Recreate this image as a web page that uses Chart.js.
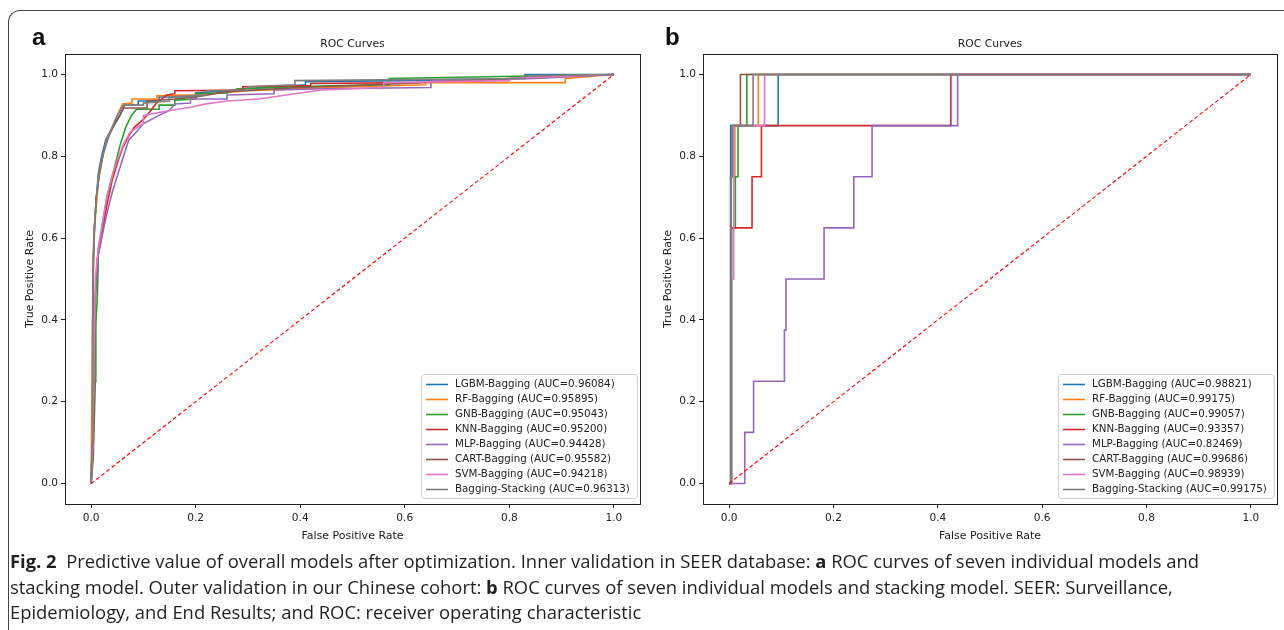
<!DOCTYPE html>
<html>
<head>
<meta charset="utf-8">
<script src="https://cdn.jsdelivr.net/npm/chart.js@4.4.0/dist/chart.umd.min.js"></script>
<style>
body { margin:0; width:1284px; height:630px; overflow:hidden; background:#fff; position:relative; }
.frame { position:absolute; left:8px; top:10px; width:1320px; height:700px; border-left:1.5px solid #444; border-top:1.5px solid #444; border-top-left-radius:12px; }
canvas { position:absolute; top:0; }
#chartA { left:0; }
#chartB { left:640px; }
.tag { position:absolute; top:25px; font-family:"Liberation Sans", Arial, sans-serif; font-weight:bold; font-size:24px; line-height:24px; color:#111; }
.caption { position:absolute; left:10px; top:548px; font-family:"Open Sans", sans-serif; font-size:18.4px; line-height:25.5px; color:#231f20; white-space:nowrap; }
</style>
</head>
<body>
<div class="frame"></div>
<canvas id="chartA" width="660" height="549"></canvas>
<canvas id="chartB" width="644" height="549"></canvas>
<div class="tag" style="left:32px">a</div>
<div class="tag" style="left:665px">b</div>
<div class="caption">
<div><b>Fig. 2</b>&nbsp; Predictive value of overall models after optimization. Inner validation in SEER database: <b>a</b> ROC curves of seven individual models and</div>
<div>stacking model. Outer validation in our Chinese cohort: <b>b</b> ROC curves of seven individual models and stacking model. SEER: Surveillance,</div>
<div>Epidemiology, and End Results; and ROC: receiver operating characteristic</div>
</div>
<script>
const plotTitle = "ROC Curves";
const models = ["LGBM-Bagging", "RF-Bagging", "GNB-Bagging", "KNN-Bagging", "MLP-Bagging", "CART-Bagging", "SVM-Bagging", "Bagging-Stacking"];
const colors = ["#1f77b4", "#ff7f0e", "#2ca02c", "#d62728", "#9467bd", "#8c564b", "#e377c2", "#7f7f7f"];
const aucA = [0.96084, 0.95895, 0.95043, 0.95200, 0.94428, 0.95582, 0.94218, 0.96313];
const aucB = [0.98821, 0.99175, 0.99057, 0.93357, 0.82469, 0.99686, 0.98939, 0.99175];
const tickVals = [0, 0.2, 0.4, 0.6, 0.8, 1.0];
const chanceLine = [[0, 0], [1, 1]];

// panel a: inner validation (SEER), [fpr, tpr]
const lgbmA = [[0,0],[0.002,0.12],[0.003,0.35],[0.004,0.55],[0.006,0.62],[0.01,0.7],[0.014,0.76],[0.02,0.8],[0.028,0.84],[0.036,0.86],[0.046,0.88],[0.055,0.9],[0.064,0.925],[0.09,0.925],[0.09,0.935],[0.13,0.935],[0.13,0.945],[0.2,0.945],[0.2,0.955],[0.26,0.96],[0.3,0.965],[0.41,0.975],[0.41,0.982],[0.6,0.985],[0.83,0.99],[0.83,1],[1,1]];
const rfA = [[0,0],[0.002,0.3],[0.004,0.55],[0.008,0.65],[0.014,0.74],[0.022,0.8],[0.03,0.84],[0.04,0.87],[0.05,0.9],[0.06,0.928],[0.078,0.93],[0.078,0.94],[0.126,0.94],[0.126,0.948],[0.2,0.95],[0.3,0.96],[0.5,0.97],[0.64,0.975],[0.64,0.98],[0.907,0.98],[0.907,0.99],[1,1]];
const gnbA = [[0,0],[0.004,0.06],[0.008,0.25],[0.009,0.39],[0.012,0.46],[0.014,0.57],[0.02,0.62],[0.03,0.7],[0.04,0.75],[0.048,0.79],[0.056,0.83],[0.066,0.87],[0.077,0.9],[0.087,0.915],[0.13,0.915],[0.13,0.925],[0.16,0.925],[0.16,0.937],[0.2,0.94],[0.2,0.953],[0.26,0.955],[0.28,0.965],[0.45,0.972],[0.57,0.975],[0.57,0.99],[1,1]];
const knnA = [[0,0],[0.004,0.1],[0.006,0.3],[0.008,0.45],[0.012,0.55],[0.02,0.6],[0.03,0.68],[0.04,0.74],[0.052,0.79],[0.06,0.82],[0.072,0.85],[0.082,0.87],[0.1,0.89],[0.113,0.91],[0.125,0.93],[0.145,0.95],[0.16,0.953],[0.16,0.96],[0.29,0.962],[0.29,0.97],[0.42,0.973],[0.42,0.978],[0.62,0.98],[0.8,0.99],[1,1]];
const mlpA = [[0,0],[0.003,0.08],[0.005,0.3],[0.008,0.45],[0.012,0.55],[0.02,0.6],[0.03,0.66],[0.04,0.71],[0.052,0.76],[0.062,0.8],[0.072,0.84],[0.087,0.86],[0.1,0.88],[0.13,0.9],[0.15,0.912],[0.16,0.928],[0.19,0.93],[0.19,0.94],[0.26,0.94],[0.26,0.95],[0.35,0.953],[0.35,0.962],[0.45,0.965],[0.65,0.968],[0.65,0.985],[0.85,0.99],[1,1]];
const cartA = [[0,0],[0.002,0.1],[0.003,0.4],[0.005,0.6],[0.01,0.7],[0.016,0.76],[0.024,0.81],[0.034,0.85],[0.045,0.88],[0.055,0.9],[0.062,0.918],[0.107,0.918],[0.107,0.935],[0.16,0.94],[0.2,0.945],[0.26,0.958],[0.4,0.968],[0.6,0.978],[0.8,0.99],[1,1]];
const svmA = [[0,0],[0.003,0.1],[0.006,0.35],[0.008,0.5],[0.014,0.58],[0.022,0.64],[0.03,0.7],[0.04,0.75],[0.05,0.79],[0.062,0.83],[0.075,0.86],[0.1,0.88],[0.1,0.9],[0.151,0.912],[0.19,0.92],[0.22,0.928],[0.26,0.935],[0.32,0.94],[0.39,0.953],[0.44,0.962],[0.56,0.968],[0.56,0.98],[0.8,0.985],[0.8,0.99],[1,1]];
const stackA = [[0,0],[0.002,0.1],[0.003,0.45],[0.006,0.62],[0.01,0.7],[0.016,0.77],[0.022,0.8],[0.03,0.84],[0.04,0.87],[0.05,0.9],[0.062,0.925],[0.1,0.925],[0.1,0.93],[0.15,0.935],[0.15,0.945],[0.22,0.95],[0.22,0.96],[0.3,0.962],[0.3,0.97],[0.39,0.975],[0.39,0.985],[0.83,0.99],[0.83,0.997],[1,1]];

// panel b: outer validation (Chinese cohort)
const lgbmB = [[0,0],[0.003,0],[0.003,0.875],[0.094,0.875],[0.094,1],[1,1]];
const rfB = [[0,0],[0.004,0],[0.004,0.75],[0.011,0.75],[0.011,0.875],[0.056,0.875],[0.056,1],[1,1]];
const gnbB = [[0,0],[0.005,0],[0.005,0.625],[0.012,0.625],[0.012,0.75],[0.017,0.75],[0.017,0.875],[0.034,0.875],[0.034,1],[1,1]];
const knnB = [[0,0],[0.004,0],[0.004,0.625],[0.044,0.625],[0.044,0.75],[0.062,0.75],[0.062,0.875],[0.425,0.875],[0.425,1],[1,1]];
const mlpB = [[0,0],[0.03,0],[0.03,0.125],[0.047,0.125],[0.047,0.25],[0.106,0.25],[0.106,0.375],[0.109,0.375],[0.109,0.5],[0.182,0.5],[0.182,0.625],[0.239,0.625],[0.239,0.75],[0.274,0.75],[0.274,0.875],[0.438,0.875],[0.438,1],[1,1]];
const cartB = [[0,0],[0.003,0],[0.003,0.75],[0.0057,0.75],[0.0057,0.875],[0.0217,0.875],[0.0217,1],[1,1]];
const svmB = [[0,0],[0.005,0],[0.005,0.5],[0.009,0.5],[0.009,0.875],[0.068,0.875],[0.068,1],[1,1]];
const stackB = [[0,0],[0.004,0],[0.004,0.75],[0.0057,0.75],[0.0057,0.875],[0.046,0.875],[0.046,1],[1,1]];

const curvesA = [lgbmA, rfA, gnbA, knnA, mlpA, cartA, svmA, stackA];
const curvesB = [lgbmB, rfB, gnbB, knnB, mlpB, cartB, svmB, stackB];

// axes box + title centred over the plot area (matplotlib style)
const frameBox = {
  id: 'frameBox',
  afterDraw(chart) {
    const a = chart.chartArea, ctx = chart.ctx;
    ctx.save();
    ctx.strokeStyle = '#222';
    ctx.lineWidth = 1;
    ctx.strokeRect(Math.round(a.left) + 0.5, Math.round(a.top) + 0.5, Math.round(a.right - a.left), Math.round(a.bottom - a.top));
    ctx.fillStyle = '#222';
    ctx.font = '10.8px "DejaVu Sans"';
    ctx.textAlign = 'center';
    ctx.textBaseline = 'middle';
    ctx.fillText(plotTitle, (a.left + a.right) / 2, 44);
    ctx.restore();
  }
};

const rocLegend = {
  id: 'rocLegend',
  afterDatasetsDraw(chart) {
    const ctx = chart.ctx, a = chart.chartArea;
    const items = chart.data.datasets.filter(d => d.inLegend);
    ctx.save();
    ctx.font = '10.3px "DejaVu Sans"';
    const w = Math.max(...items.map(d => ctx.measureText(d.label).width)) + 41;
    const h = 10.5 + (items.length - 1) * 15 + 8.5;
    const x = Math.round(a.right - 3 - w), y = Math.round(a.bottom - 6 - h);
    ctx.fillStyle = 'rgba(255,255,255,0.85)';
    ctx.strokeStyle = '#d0d0d0';
    ctx.lineWidth = 1;
    ctx.beginPath();
    ctx.roundRect(x + 0.5, y + 0.5, w, h, 3);
    ctx.fill();
    ctx.stroke();
    ctx.textBaseline = 'middle';
    items.forEach((d, i) => {
      const cy = y + 10.5 + i * 15;
      ctx.strokeStyle = d.borderColor;
      ctx.lineWidth = 1.6;
      ctx.beginPath();
      ctx.moveTo(x + 5, cy);
      ctx.lineTo(x + 27, cy);
      ctx.stroke();
      ctx.fillStyle = '#222';
      ctx.fillText(d.label, x + 34, cy);
    });
    ctx.restore();
  }
};

function axis(titleText, isX, size, titlePad) {
  return {
    type: 'linear',
    min: -0.05,
    max: 1.05,
    afterBuildTicks: s => { s.ticks = tickVals.map(v => ({ value: v })); },
    afterFit: s => { if (isX) s.height = size; else s.width = size; },
    grid: { drawOnChartArea: false, drawTicks: true, tickLength: 4, color: '#222', lineWidth: 1 },
    border: { display: false },
    ticks: {
      padding: isX ? 4 : 3, color: '#222', autoSkip: false, maxRotation: 0,
      font: { family: 'DejaVu Sans', size: 10.6 },
      callback: v => v.toFixed(1)
    },
    title: {
      display: true, text: titleText, color: '#222',
      font: { family: 'DejaVu Sans', size: 11 },
      padding: titlePad
    }
  };
}

function rocChart(id, curves, aucs, yAxisW, yTitlePad, rightPad) {
  const datasets = curves.map((c, i) => ({
    label: models[i] + ' (AUC=' + aucs[i].toFixed(5) + ')',
    data: c.map(p => ({ x: p[0], y: p[1] })),
    borderColor: colors[i],
    borderWidth: 1.6,
    showLine: true,
    pointRadius: 0,
    fill: false,
    order: 20 - i,
    inLegend: true
  }));
  datasets.push({
    label: 'chance',
    data: chanceLine.map(p => ({ x: p[0], y: p[1] })),
    borderColor: '#ff0000',
    borderWidth: 1.1,
    borderDash: [4, 2.5],
    showLine: true,
    pointRadius: 0,
    order: 0
  });
  return new Chart(id, {
    type: 'scatter',
    data: { datasets: datasets },
    options: {
      responsive: false,
      animation: false,
      events: [],
      devicePixelRatio: 1,
      layout: { padding: { left: 0, right: rightPad, top: 54, bottom: 0 } },
      scales: {
        x: axis('False Positive Rate', true, 45, { top: 0, bottom: 6 }),
        y: axis('True Positive Rate', false, yAxisW, { top: yTitlePad, bottom: 0 })
      },
      plugins: {
        legend: { display: false },
        tooltip: { enabled: false },
        title: { display: false }
      }
    },
    plugins: [rocLegend, frameBox]
  });
}

rocChart('chartA', curvesA, aucA, 65, 23.5, 20);
rocChart('chartB', curvesB, aucB, 63, 21.5, 7);
</script>
</body>
</html>
